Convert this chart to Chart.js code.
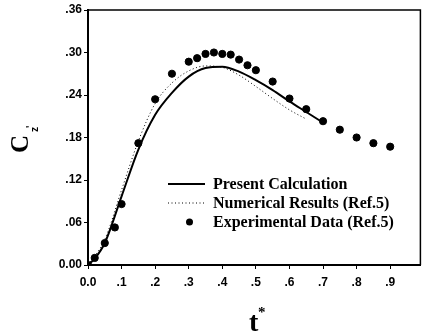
<!DOCTYPE html>
<html>
<head>
<meta charset="utf-8">
<script src="https://cdn.jsdelivr.net/npm/chart.js@4"></script>
<style>
  html, body { margin: 0; padding: 0; background: #fff; overflow: hidden; }
  #wrap { width: 425px; height: 334px; }
</style>
</head>
<body>
<div id="wrap"><canvas id="myChart" width="425" height="334"></canvas></div>
<script>
// data
const presentT = [0, 0.02, 0.05, 0.1, 0.15, 0.2, 0.25, 0.3, 0.35, 0.4, 0.45, 0.5, 0.55, 0.6, 0.65, 0.69];
const presentC = [0, 0.009, 0.031, 0.097, 0.163, 0.212, 0.243, 0.266, 0.278, 0.280, 0.273, 0.261, 0.247, 0.231, 0.216, 0.204];

const numericalT = [0, 0.05, 0.1, 0.15, 0.2, 0.25, 0.3, 0.35, 0.4, 0.45, 0.5, 0.55, 0.6, 0.65];
const numericalC = [0, 0.036, 0.106, 0.175, 0.228, 0.257, 0.274, 0.281, 0.279, 0.268, 0.252, 0.235, 0.219, 0.206];

const expT = [0, 0.02, 0.05, 0.08, 0.1, 0.15, 0.2, 0.25, 0.3, 0.325, 0.35, 0.375, 0.4, 0.425, 0.45, 0.475, 0.5, 0.55, 0.6, 0.65, 0.7, 0.75, 0.8, 0.85, 0.9];
const expC = [0, 0.010, 0.031, 0.053, 0.086, 0.172, 0.234, 0.270, 0.287, 0.292, 0.298, 0.300, 0.298, 0.297, 0.290, 0.282, 0.275, 0.259, 0.235, 0.220, 0.203, 0.191, 0.180, 0.172, 0.167];

const seriesNames = ['Present Calculation', 'Numerical Results (Ref.5)', 'Experimental Data (Ref.5)'];
const xTicks = [0, 0.1, 0.2, 0.3, 0.4, 0.5, 0.6, 0.7, 0.8, 0.9];
const yTicks = [0, 0.06, 0.12, 0.18, 0.24, 0.30, 0.36];

function pairs(xs, ys) {
    return xs.map((x, i) => ({ x: x, y: ys[i] }));
}

// strip the leading zero like the original (.06, .1), keep 0.00 / 0.0
function fmt(v, digits) {
    if (Math.abs(v) < 1e-9) return (0).toFixed(digits);
    return v.toFixed(digits).replace(/^0/, '');
}

const tickFont = { family: '"Liberation Sans", Arial, sans-serif', size: 12, weight: 'bold' };

// legend, axis titles and frame drawn on top
const extras = {
    id: 'extras',
    afterDraw(chart) {
        const ctx = chart.ctx;
        const a = chart.chartArea;
        ctx.save();
        ctx.strokeStyle = '#000';
        ctx.lineWidth = 1.5;
        ctx.beginPath();
        ctx.moveTo(a.left, a.top);
        ctx.lineTo(a.right, a.top);
        ctx.lineTo(a.right, a.bottom);
        ctx.stroke();

        // legend
        const lx0 = 168, lx1 = 205, tx = 213;
        const rows = [184, 203, 222];
        ctx.fillStyle = '#000';
        ctx.font = 'bold 16px "Liberation Serif", "Times New Roman", serif';
        ctx.textBaseline = 'middle';
        ctx.textAlign = 'left';
        ctx.lineWidth = 2;
        ctx.setLineDash([]);
        ctx.beginPath();
        ctx.moveTo(lx0, rows[0]);
        ctx.lineTo(lx1, rows[0]);
        ctx.stroke();
        ctx.lineWidth = 1;
        ctx.setLineDash([1, 2.5]);
        ctx.beginPath();
        ctx.moveTo(lx0, rows[1]);
        ctx.lineTo(lx1, rows[1]);
        ctx.stroke();
        ctx.setLineDash([]);
        ctx.beginPath();
        ctx.arc((lx0 + lx1) / 2 + 3, rows[2], 3.5, 0, Math.PI * 2);
        ctx.fill();
        chart.data.datasets.forEach((ds, i) => {
            ctx.fillText(ds.label, tx, rows[i] + 1);
        });

        // x title: t*
        ctx.textBaseline = 'alphabetic';
        ctx.font = 'bold 28px "Liberation Serif", "Times New Roman", serif';
        ctx.fillText('t', 249, 331);
        ctx.font = 'bold 15px "Liberation Serif", "Times New Roman", serif';
        ctx.fillText('*', 258, 317);

        // y title: C_z' rotated
        ctx.translate(28, 153);
        ctx.rotate(-Math.PI / 2);
        ctx.font = 'bold 25px "Liberation Serif", "Times New Roman", serif';
        ctx.fillText('C', 0, 0);
        ctx.font = 'bold 10px "Liberation Sans", Arial, sans-serif';
        ctx.fillText('z', 21, 10);
        ctx.font = 'bold 10px "Liberation Sans", Arial, sans-serif';
        ctx.fillText("'", 25, 6);
        ctx.restore();
    }
};

const ctx = document.getElementById('myChart').getContext('2d');
const myChart = new Chart(ctx, {
    type: 'scatter',
    data: {
        datasets: [{
            label: seriesNames[0],
            type: 'line',
            data: pairs(presentT, presentC),
            borderColor: '#000',
            borderWidth: 2,
            pointRadius: 0,
            cubicInterpolationMode: 'monotone',
            fill: false
        }, {
            label: seriesNames[1],
            type: 'line',
            data: pairs(numericalT, numericalC),
            borderColor: '#000',
            borderWidth: 1,
            borderDash: [1, 2.5],
            pointRadius: 0,
            cubicInterpolationMode: 'monotone',
            fill: false
        }, {
            label: seriesNames[2],
            data: pairs(expT, expC),
            backgroundColor: '#000',
            borderColor: '#000',
            pointRadius: 3.6,
            pointHoverRadius: 3.6
        }]
    },
    options: {
        responsive: false,
        animation: false,
        events: [],
        layout: { padding: { left: 0, top: 10, right: 1, bottom: 0 } },
        plugins: {
            legend: { display: false },
            tooltip: { enabled: false }
        },
        scales: {
            x: {
                type: 'linear',
                min: 0,
                max: 0.99,
                afterBuildTicks: (scale) => { scale.ticks = xTicks.map(v => ({ value: v })); },
                afterFit: (scale) => { scale.height = 69; },
                grid: { display: true, drawOnChartArea: false, tickLength: 4, color: '#000', lineWidth: 1 },
                border: { display: true, color: '#000', width: 2 },
                ticks: {
                    color: '#000',
                    font: tickFont,
                    padding: 6,
                    maxRotation: 0,
                    autoSkip: false,
                    callback: (v) => fmt(v, 1)
                }
            },
            y: {
                type: 'linear',
                min: 0,
                max: 0.36,
                afterBuildTicks: (scale) => { scale.ticks = yTicks.map(v => ({ value: v })); },
                afterFit: (scale) => { scale.width = 88; },
                grid: { display: true, drawOnChartArea: false, tickLength: 4, color: '#000', lineWidth: 1 },
                border: { display: true, color: '#000', width: 2 },
                ticks: {
                    color: '#000',
                    font: tickFont,
                    padding: 2,
                    autoSkip: false,
                    callback: (v) => fmt(v, 2)
                }
            }
        }
    },
    plugins: [extras]
});
</script>
</body>
</html>
